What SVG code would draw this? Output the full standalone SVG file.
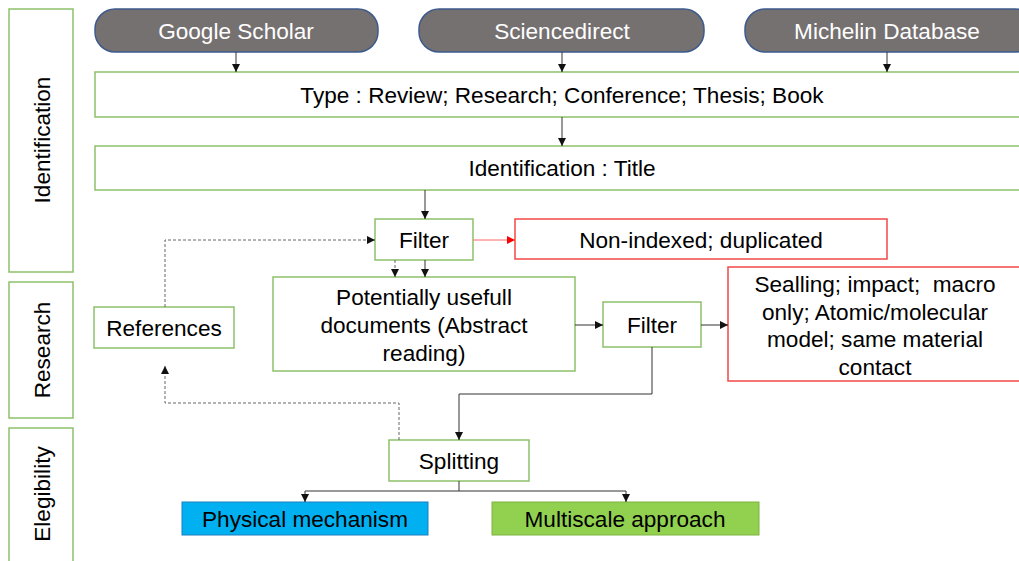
<svg xmlns="http://www.w3.org/2000/svg" width="1019" height="561" viewBox="0 0 1019 561">
<defs>
<style>
text{font-family:"Liberation Sans",Arial,sans-serif;font-size:22.6px;fill:#000;text-anchor:middle}
.g{fill:#fff;stroke:#8DC16A;stroke-width:1.5}
.r{fill:#fff;stroke:#F24848;stroke-width:1.5}
.pill{fill:#767171;stroke:#3D5A8C;stroke-width:1.5}
.pt{fill:#fff}
.c{fill:none;stroke:#333;stroke-width:1}
.d{fill:none;stroke:#666;stroke-width:1;stroke-dasharray:3,2}
</style>
<marker id="a" viewBox="0 0 10 10" refX="10" refY="5" markerWidth="8" markerHeight="8" markerUnits="userSpaceOnUse" orient="auto"><path d="M0,0L10,5L0,10z" fill="#111"/></marker>
<marker id="ar" viewBox="0 0 10 10" refX="10" refY="5" markerWidth="8" markerHeight="8" markerUnits="userSpaceOnUse" orient="auto"><path d="M0,0L10,5L0,10z" fill="#F00"/></marker>
</defs>
<rect width="1019" height="561" fill="#fff"/>
<g id="side-identification"><rect class="g" x="9" y="9" width="64" height="263"/><text transform="translate(50,140) rotate(-90)">Identification</text></g>
<g id="side-research"><rect class="g" x="9" y="282" width="64" height="136"/><text transform="translate(50,350) rotate(-90)">Research</text></g>
<g id="side-elegibility"><rect class="g" x="9" y="428" width="64" height="140"/><text transform="translate(50,494) rotate(-90)">Elegibility</text></g>
<g id="google"><rect class="pill" x="95" y="9" width="283" height="43" rx="20"/><text class="pt" x="236" y="39">Google Scholar</text></g>
<g id="sciencedirect"><rect class="pill" x="419" y="9" width="285" height="43" rx="20"/><text class="pt" x="562" y="39">Sciencedirect</text></g>
<g id="michelin"><rect class="pill" x="745" y="9" width="290" height="43" rx="20"/><text class="pt" x="887" y="39">Michelin Database</text></g>
<g id="type"><rect class="g" x="95" y="72" width="940" height="45"/><text x="562" y="103">Type : Review; Research; Conference; Thesis; Book</text></g>
<g id="identification"><rect class="g" x="95" y="146" width="940" height="44"/><text x="562" y="176">Identification : Title</text></g>
<g id="filter1"><rect class="g" x="375" y="219" width="98" height="41"/><text x="424" y="248">Filter</text></g>
<g id="nonindexed"><rect class="r" x="515" y="219" width="372" height="40"/><text x="701" y="248">Non-indexed; duplicated</text></g>
<g id="potentially"><rect class="g" x="273" y="277" width="302" height="94"/><text x="424" y="305">Potentially usefull</text><text x="424" y="333">documents (Abstract</text><text x="424" y="361">reading)</text></g>
<g id="references"><rect class="g" x="94" y="307" width="140" height="41"/><text x="164" y="336">References</text></g>
<g id="filter2"><rect class="g" x="603" y="302" width="98" height="45"/><text x="652" y="333">Filter</text></g>
<g id="excluded"><rect class="r" x="728" y="267" width="300" height="114"/><text x="875" y="292" xml:space="preserve">Sealling; impact;  macro</text><text x="875" y="320">only; Atomic/molecular</text><text x="875" y="347">model; same material</text><text x="875" y="375">contact</text></g>
<g id="splitting"><rect class="g" x="389" y="440" width="140" height="41"/><text x="459" y="469">Splitting</text></g>
<g id="physical"><rect x="182" y="502" width="246" height="33" fill="#00B0F0" stroke="#1F7FC0" stroke-width="1"/><text x="305" y="527">Physical mechanism</text></g>
<g id="multiscale"><rect x="492" y="502" width="267" height="33" fill="#92D050" stroke="#7DB43E" stroke-width="1"/><text x="625" y="527">Multiscale approach</text></g>
<g id="connectors">
<path class="c" d="M236,52V72" marker-end="url(#a)"/>
<path class="c" d="M562,52V72" marker-end="url(#a)"/>
<path class="c" d="M887,52V72" marker-end="url(#a)"/>
<path class="c" d="M562,117V146" marker-end="url(#a)"/>
<path class="c" d="M425,190V219" marker-end="url(#a)"/>
<path fill="none" stroke="#F66" stroke-width="1" d="M473,240H515" marker-end="url(#ar)"/>
<path class="c" d="M425,260V277" marker-end="url(#a)"/>
<path class="d" d="M395,260V277" marker-end="url(#a)"/>
<path class="d" d="M165,307V240H375" marker-end="url(#a)"/>
<path class="c" d="M575,325H603" marker-end="url(#a)"/>
<path class="c" d="M701,325H728" marker-end="url(#a)"/>
<path class="c" d="M652,347V394H459V440" marker-end="url(#a)"/>
<path class="d" d="M399,440V403H165V366" marker-end="url(#a)"/>
<path class="c" d="M459,481V491H305V502" marker-end="url(#a)"/>
<path class="c" d="M459,491H626V502" marker-end="url(#a)"/>
</g>
</svg>
